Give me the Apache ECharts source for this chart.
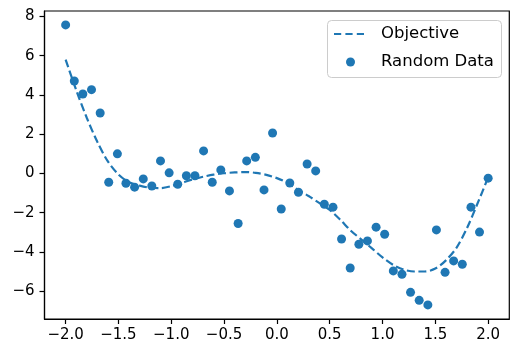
<!DOCTYPE html>
<html>
<head>
<meta charset="utf-8">
<script src="https://cdn.jsdelivr.net/npm/echarts@6/dist/echarts.min.js"></script>
<style>
html,body{margin:0;padding:0;background:#fff;}
#chart{width:519px;height:357px;}
</style>
</head>
<body>
<div id="chart"></div>
<script>
// Random data: x positions and values
var dataX = [-2.0, -1.918, -1.837, -1.755, -1.673, -1.592, -1.510, -1.429, -1.347, -1.265,
  -1.184, -1.102, -1.020, -0.939, -0.857, -0.776, -0.694, -0.612, -0.531, -0.449,
  -0.367, -0.286, -0.204, -0.122, -0.041, 0.041, 0.122, 0.204, 0.286, 0.367,
  0.449, 0.531, 0.612, 0.694, 0.776, 0.857, 0.939, 1.020, 1.102, 1.184,
  1.265, 1.347, 1.429, 1.510, 1.592, 1.673, 1.755, 1.837, 1.918, 2.0];
var dataY = [7.57, 4.71, 4.05, 4.27, 3.08, -0.45, 1.00, -0.50, -0.70, -0.28,
  -0.64, 0.64, 0.03, -0.55, -0.12, -0.12, 1.15, -0.45, 0.18, -0.89,
  -2.55, 0.64, 0.82, -0.84, 2.06, -1.81, -0.49, -0.96, 0.48, 0.13,
  -1.57, -1.72, -3.34, -4.82, -3.61, -3.44, -2.74, -3.10, -4.97, -5.14,
  -6.06, -6.47, -6.70, -2.88, -5.04, -4.46, -4.63, -1.72, -2.99, -0.24];

// Objective curve
var objX = [-2.0, -1.9, -1.8, -1.7, -1.6, -1.5, -1.4, -1.3, -1.2, -1.1,
  -1.0, -0.9, -0.8, -0.7, -0.6, -0.5, -0.4, -0.3, -0.2, -0.1,
  0.0, 0.1, 0.2, 0.3, 0.4, 0.5, 0.6, 0.7, 0.8, 0.9,
  1.0, 1.1, 1.2, 1.3, 1.4, 1.5, 1.6, 1.7, 1.8, 1.9, 2.0];
var objY = [5.80, 4.25, 2.84, 1.61, 0.61, -0.05, -0.45, -0.62, -0.73, -0.75,
  -0.65, -0.48, -0.31, -0.17, -0.06, 0.01, 0.05, 0.07, 0.03, -0.07,
  -0.24, -0.48, -0.83, -1.15, -1.50, -1.86, -2.36, -2.92, -3.37, -3.82,
  -4.28, -4.66, -4.90, -5.00, -5.00, -4.85, -4.43, -3.79, -2.78, -1.52, -0.20];

var xTicks = [-2.0, -1.5, -1.0, -0.5, 0.0, 0.5, 1.0, 1.5, 2.0];
var yTicks = [-6, -4, -2, 0, 2, 4, 6, 8];
var legendNames = ['Objective', 'Random Data'];

var blue = '#1f77b4';
var font = 'DejaVu Sans';
function fmt1(v){ return v.toFixed(1).replace('-', '\u2212'); }
function fmt0(v){ return String(Math.round(v)).replace('-', '\u2212'); }

var chart = echarts.init(document.getElementById('chart'), null, {renderer: 'canvas'});
chart.setOption({
  animation: false,
  backgroundColor: '#fff',
  grid: {left: 44.5, right: 9.7, top: 11, bottom: 38, show: true, borderColor: '#000', borderWidth: 1.2, containLabel: false},
  xAxis: {
    type: 'value', min: -2.2, max: 2.2,
    axisLine: {show: true, onZero: false, lineStyle: {color: '#000', width: 1.2}},
    axisTick: {show: true, inside: false, length: 5, lineStyle: {color: '#000', width: 1.2}, customValues: xTicks},
    axisLabel: {show: true, color: '#000', fontFamily: font, fontSize: 15, margin: 9, customValues: xTicks, formatter: fmt1},
    splitLine: {show: false}
  },
  yAxis: {
    type: 'value', min: -7.42, max: 8.28,
    axisLine: {show: true, onZero: false, lineStyle: {color: '#000', width: 1.2}},
    axisTick: {show: true, inside: false, length: 5, lineStyle: {color: '#000', width: 1.2}, customValues: yTicks},
    axisLabel: {show: true, color: '#000', fontFamily: font, fontSize: 15, margin: 10, customValues: yTicks, formatter: fmt0},
    splitLine: {show: false}
  },
  graphic: [{
    type: 'group', left: 327, top: 20, z: 100,
    children: [
      {type: 'rect', shape: {x: 0.5, y: 0.5, width: 174, height: 57, r: 4},
        style: {fill: 'rgba(255,255,255,0.8)', stroke: '#cccccc', lineWidth: 1}},
      {type: 'line', shape: {x1: 7, y1: 14, x2: 37, y2: 14},
        style: {stroke: blue, lineWidth: 2.2, lineDash: [7.2, 4.2]}},
      {type: 'circle', shape: {cx: 23.5, cy: 42, r: 4.5}, style: {fill: blue}},
      {type: 'text', x: 54, y: 14, style: {text: legendNames[0], fill: '#000', font: '16.5px "DejaVu Sans"', verticalAlign: 'middle'}},
      {type: 'text', x: 54, y: 42, style: {text: legendNames[1], fill: '#000', font: '16.5px "DejaVu Sans"', verticalAlign: 'middle'}}
    ]
  }],
  series: [
    {
      name: 'Objective', type: 'line', smooth: 0.3, showSymbol: false, symbol: 'none',
      data: objX.map(function(x, i){ return [x, objY[i]]; }),
      lineStyle: {color: blue, width: 2.2, type: [8, 3.6]},
      itemStyle: {color: blue},
      z: 3
    },
    {
      name: 'Random Data', type: 'scatter', symbol: 'circle', symbolSize: 9,
      data: dataX.map(function(x, i){ return [x, dataY[i]]; }),
      itemStyle: {color: blue, opacity: 1},
      z: 4
    }
  ]
});
</script>
</body>
</html>
